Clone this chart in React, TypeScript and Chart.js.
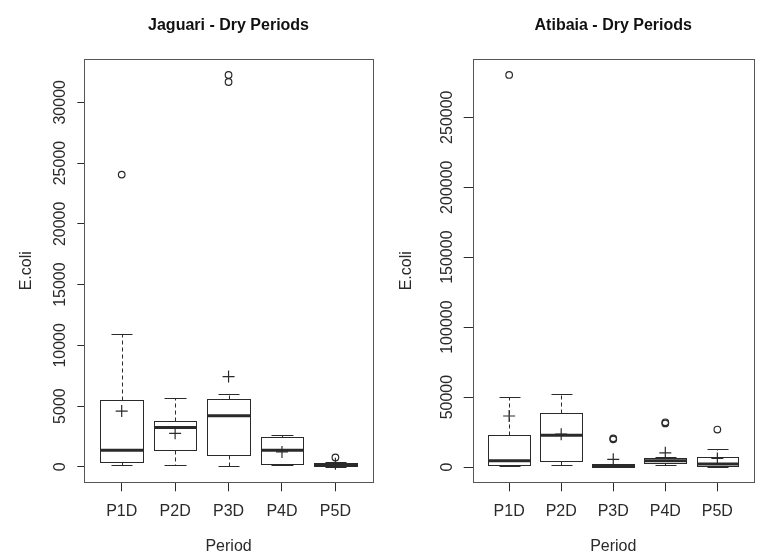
import React, { useEffect, useRef } from "react";
import { Chart, registerables } from "chart.js";

Chart.register(...registerables);

// ---------- data ----------
const categories = ["P1D", "P2D", "P3D", "P4D", "P5D"];
const xAxisTitle = "Period";
const yAxisTitle = "E.coli";

const jaguariTitle = "Jaguari - Dry Periods";
const jaguariLow = [139, 139, 57, 139, 20];
const jaguariQ1 = [385, 1369, 1016, 197, 33];
const jaguariMedian = [1369, 3230, 4213, 1369, 164];
const jaguariQ3 = [5490, 3800, 5570, 2490, 300];
const jaguariHigh = [10960, 5660, 5980, 2660, 385];
const jaguariMean = [4590, 2760, 7430, 1230, 250];
const jaguariOutliers = [[24050], [], [31670, 32250], [], [770]];
const jaguariTicks = [0, 5000, 10000, 15000, 20000, 25000, 30000];

const atibaiaTitle = "Atibaia - Dry Periods";
const atibaiaLow = [700, 1420, 300, 1420, 350];
const atibaiaQ1 = [1420, 4480, 350, 2630, 920];
const atibaiaMedian = [4480, 22760, 900, 4480, 2200];
const atibaiaQ3 = [23260, 38900, 2100, 6600, 7200];
const atibaiaHigh = [50000, 51900, 2500, 7500, 12800];
const atibaiaMean = [36500, 23500, 5500, 10200, 6200];
const atibaiaOutliers = [[280200], [], [19800, 20500], [31200, 32000], [26800]];
const atibaiaTicks = [0, 50000, 100000, 150000, 200000, 250000];

// ---------- helpers ----------
const FONT = "'Liberation Sans', Arial, sans-serif";
const INK = "#2a2a2a";

function rRange(values: number[]): [number, number] {
  const lo = Math.min(...values);
  const hi = Math.max(...values);
  const d = (hi - lo) * 0.04;
  return [lo - d, hi + d];
}

const boxPlotPlugin = {
  id: "boxplot",
  beforeDatasetsDraw(chart: any, _args: any, opts: any) {
    const { ctx, chartArea, scales } = chart;
    const x = scales.x;
    const y = scales.y;
    const s = opts.stats;
    if (!s) return;
    const snap = (v: number) => Math.round(v) + 0.5;
    const line = (x1: number, y1: number, x2: number, y2: number) => {
      ctx.beginPath();
      ctx.moveTo(x1, y1);
      ctx.lineTo(x2, y2);
      ctx.stroke();
    };
    ctx.save();
    ctx.strokeStyle = INK;
    for (let i = 0; i < s.median.length; i++) {
      const pos = i + 1;
      const cx = snap(x.getPixelForValue(pos));
      const bl = snap(x.getPixelForValue(pos - 0.4));
      const br = snap(x.getPixelForValue(pos + 0.4));
      const sl = snap(x.getPixelForValue(pos - 0.2));
      const sr = snap(x.getPixelForValue(pos + 0.2));
      const yLo = snap(y.getPixelForValue(s.low[i]));
      const yQ1 = snap(y.getPixelForValue(s.q1[i]));
      const yMed = y.getPixelForValue(s.median[i]);
      const yQ3 = snap(y.getPixelForValue(s.q3[i]));
      const yHi = snap(y.getPixelForValue(s.high[i]));
      ctx.lineWidth = 1;
      ctx.setLineDash([4, 3]);
      line(cx, yQ3, cx, yHi);
      line(cx, yQ1, cx, yLo);
      ctx.setLineDash([]);
      line(sl, yHi, sr, yHi);
      line(sl, yLo, sr, yLo);
      ctx.fillStyle = "#ffffff";
      ctx.fillRect(bl, yQ3, br - bl, yQ1 - yQ3);
      ctx.strokeRect(bl, yQ3, br - bl, yQ1 - yQ3);
      ctx.lineWidth = 3;
      line(bl - 0.5, yMed, br + 0.5, yMed);
    }
    // plot frame
    ctx.lineWidth = 1;
    ctx.strokeStyle = "#555555";
    ctx.strokeRect(
      snap(chartArea.left),
      snap(chartArea.top),
      Math.round(chartArea.right - chartArea.left),
      Math.round(chartArea.bottom - chartArea.top)
    );
    ctx.restore();
  },
};

type PanelProps = {
  title: string;
  low: number[];
  q1: number[];
  median: number[];
  q3: number[];
  high: number[];
  mean: number[];
  outliers: number[][];
  ticks: number[];
  left: number;
  width: number;
  yAxisWidth: number;
  padRight: number;
  yTickLen: number;
  yTickPad: number;
};

function Panel(p: PanelProps) {
  const ref = useRef<HTMLCanvasElement | null>(null);
  useEffect(() => {
    if (!ref.current) return;
    const allValues = [...p.low, ...p.high, ...p.outliers.flat()];
    const [yMin, yMax] = rRange(allValues);
    const [xMin, xMax] = rRange([0.5, categories.length + 0.5]);
    const outlierPts: { x: number; y: number }[] = [];
    p.outliers.forEach((arr, i) => arr.forEach((v) => outlierPts.push({ x: i + 1, y: v })));
    const meanPts = p.mean.map((v, i) => ({ x: i + 1, y: v }));
    const tickFont = { family: FONT, size: 16 };

    const chart = new Chart(ref.current, {
      type: "scatter",
      data: {
        datasets: [
          {
            data: outlierPts,
            pointStyle: "circle",
            pointRadius: 3.3,
            pointBorderWidth: 1.2,
            pointBackgroundColor: "rgba(255,255,255,0)",
            pointBorderColor: INK,
          },
          {
            data: meanPts,
            pointStyle: "cross",
            pointRadius: 6,
            pointBorderWidth: 1.2,
            pointBorderColor: INK,
          },
        ],
      },
      options: {
        animation: false,
        responsive: false,
        events: [],
        layout: { padding: { left: 0, right: p.padRight, top: 0, bottom: 0 } },
        plugins: {
          legend: { display: false },
          tooltip: { enabled: false },
          title: {
            display: true,
            fullSize: false,
            text: p.title,
            color: "#111111",
            font: { family: FONT, size: 16, weight: "bold", lineHeight: 1.2 },
            padding: { top: 16.4, bottom: 23.7 },
          },
          boxplot: {
            stats: { low: p.low, q1: p.q1, median: p.median, q3: p.q3, high: p.high },
          },
        } as any,
        scales: {
          x: {
            type: "linear",
            min: xMin,
            max: xMax,
            afterBuildTicks: (s: any) => {
              s.ticks = categories.map((_, i) => ({ value: i + 1 }));
            },
            afterFit: (s: any) => {
              s.height = 77.7;
            },
            ticks: {
              autoSkip: false,
              maxRotation: 0,
              minRotation: 0,
              color: INK,
              font: tickFont,
              padding: 11,
              callback: (v: any) => categories[Math.round(Number(v)) - 1],
            },
            grid: { drawOnChartArea: false, drawTicks: true, tickLength: 9, color: INK, tickColor: INK },
            border: { display: false },
            title: {
              display: true,
              text: xAxisTitle,
              color: INK,
              font: { family: FONT, size: 16, lineHeight: 1.2 },
              padding: { top: 0, bottom: 3.4 },
            },
          },
          y: {
            type: "linear",
            min: yMin,
            max: yMax,
            afterBuildTicks: (s: any) => {
              s.ticks = p.ticks.map((v) => ({ value: v }));
            },
            afterFit: (s: any) => {
              s.width = p.yAxisWidth;
            },
            ticks: {
              autoSkip: false,
              minRotation: 90,
              maxRotation: 90,
              crossAlign: "center",
              color: INK,
              font: tickFont,
              padding: p.yTickPad,
              callback: (v: any) => String(v),
            },
            grid: { drawOnChartArea: false, drawTicks: true, tickLength: p.yTickLen, color: INK, tickColor: INK },
            border: { display: false },
            title: {
              display: true,
              text: yAxisTitle,
              color: INK,
              font: { family: FONT, size: 16, lineHeight: 1.2 },
              padding: { top: 17.4, bottom: 0 },
            },
          },
        },
      } as any,
      plugins: [boxPlotPlugin],
    });
    return () => chart.destroy();
  }, []);
  return (
    <canvas
      ref={ref}
      width={p.width}
      height={560}
      style={{ position: "absolute", left: p.left, top: 0, width: p.width, height: 560 }}
    />
  );
}

export default function App() {
  return (
    <div
      style={{
        position: "fixed",
        left: 0,
        top: 0,
        width: 761,
        height: 560,
        background: "#ffffff",
        overflow: "hidden",
      }}
    >
      <Panel
        title={jaguariTitle}
        low={jaguariLow}
        q1={jaguariQ1}
        median={jaguariMedian}
        q3={jaguariQ3}
        high={jaguariHigh}
        mean={jaguariMean}
        outliers={jaguariOutliers}
        ticks={jaguariTicks}
        left={0}
        width={380}
        yAxisWidth={84.3}
        padRight={6.7}
        yTickLen={7}
        yTickPad={-6}
      />
      <Panel
        title={atibaiaTitle}
        low={atibaiaLow}
        q1={atibaiaQ1}
        median={atibaiaMedian}
        q3={atibaiaQ3}
        high={atibaiaHigh}
        mean={atibaiaMean}
        outliers={atibaiaOutliers}
        ticks={atibaiaTicks}
        left={380}
        width={381}
        yAxisWidth={92.7}
        padRight={0.5}
        yTickLen={9}
        yTickPad={-10.5}
      />
    </div>
  );
}
